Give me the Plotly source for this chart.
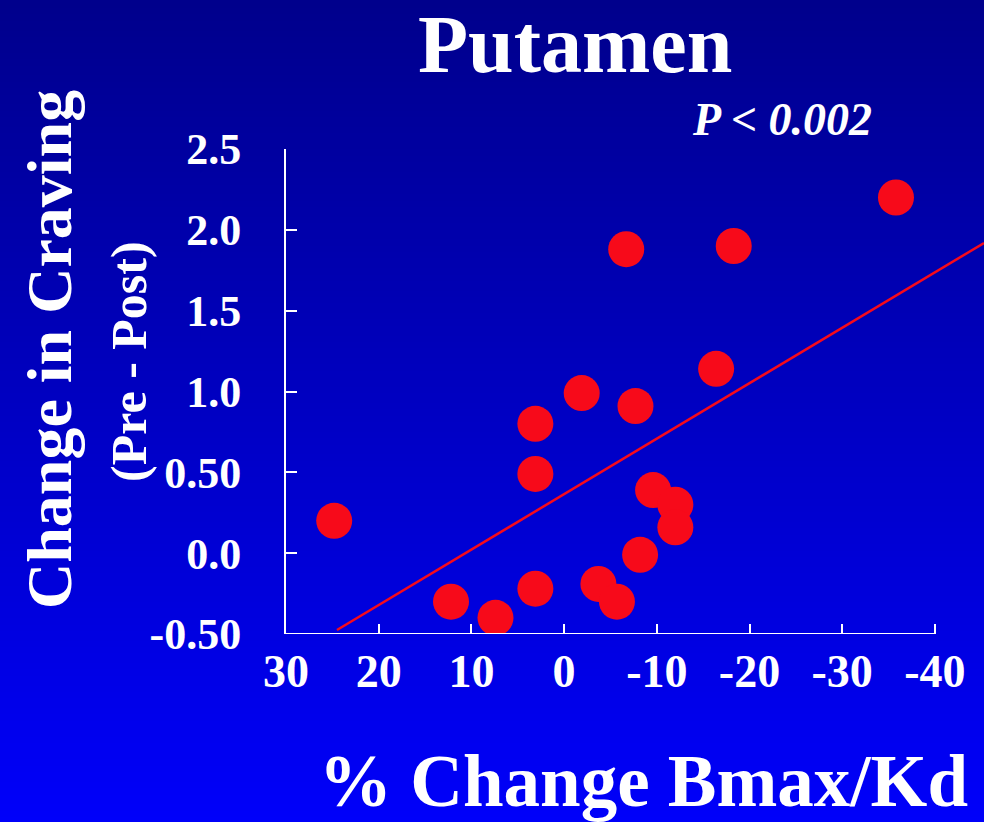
import base64
import struct
import zlib

import plotly.graph_objects as go

# ---------------- data ----------------
bmax_change = [-35.8, -6.7, -18.3, -16.4, -1.9, -7.7, 3.1, 3.1, -9.6,
               -12.0, -12.0, 24.8, -8.2, 3.1, 12.2, 7.4, -3.7, -5.7]
craving_change = [2.20, 1.88, 1.90, 1.14, 0.99, 0.91, 0.80, 0.49, 0.39,
                  0.30, 0.16, 0.20, -0.01, -0.22, -0.30, -0.40, -0.19, -0.30]

fit_slope = -0.0343
fit_intercept = 0.365
fit_x = [24.5, -45.3]
fit_y = [fit_intercept + fit_slope * v for v in fit_x]

x_tick_vals = [30, 20, 10, 0, -10, -20, -30, -40]
x_tick_text = ["30", "20", "10", "0", "-10", "-20", "-30", "-40"]
y_tick_vals = [-0.5, 0.0, 0.5, 1.0, 1.5, 2.0, 2.5]
y_tick_text = ["-0.50", "0.0", "0.50", "1.0", "1.5", "2.0", "2.5"]

title_text = "Putamen"
p_text = "<i>P < 0.002</i>"
x_title = "% Change Bmax/Kd"
y_title_1 = "Change in Craving"
y_title_2 = "(Pre - Post)"

# ---------------- layout geometry ----------------
W, H = 984, 822
L, R, T, B = 286, 0, 149, 188
PW, PH = W - L - R, H - T - B

def paper(xp, yp):
    return (xp - L) / PW, (H - B - yp) / PH

FONT = "Liberation Serif, Times New Roman, serif"
WHITE = "#ffffff"
RED = "#f70a1a"

# ---------------- gradient background as small PNG ----------------
def gradient_png(top, bottom, n=256):
    rows = b""
    for i in range(n):
        t = i / (n - 1)
        c = [int(round(top[k] + (bottom[k] - top[k]) * t)) for k in range(3)]
        rows += b"\x00" + bytes(c)
    def chunk(tag, data):
        return (struct.pack(">I", len(data)) + tag + data +
                struct.pack(">I", zlib.crc32(tag + data) & 0xffffffff))
    png = b"\x89PNG\r\n\x1a\n"
    png += chunk(b"IHDR", struct.pack(">IIBBBBB", 1, n, 8, 2, 0, 0, 0))
    png += chunk(b"IDAT", zlib.compress(rows))
    png += chunk(b"IEND", b"")
    return "data:image/png;base64," + base64.b64encode(png).decode()

bg_src = gradient_png((0, 0, 140), (0, 0, 250))

fig = go.Figure()

fig.add_trace(go.Scatter(
    x=fit_x, y=fit_y, mode="lines",
    line=dict(color=RED, width=2.5),
    hoverinfo="skip", showlegend=False,
))
fig.add_trace(go.Scatter(
    x=bmax_change, y=craving_change, mode="markers",
    marker=dict(size=36, color=RED, line=dict(width=0)),
    showlegend=False,
))

# x axis line only spans the tick range (30 .. -40)
fig.add_shape(type="line", xref="x", yref="y",
              x0=x_tick_vals[0], x1=x_tick_vals[-1],
              y0=y_tick_vals[0], y1=y_tick_vals[0],
              line=dict(color=WHITE, width=2), layer="above")

x0p, y0p = paper(0, 0)
x1p, y1p = paper(W, H)
fig.add_layout_image(dict(
    source=bg_src, xref="paper", yref="paper",
    x=x0p, y=y0p, sizex=x1p - x0p, sizey=y0p - y1p,
    xanchor="left", yanchor="top", sizing="stretch", layer="below",
))

def ann(text, xp, yp, size, angle=0):
    ax, ay = paper(xp, yp)
    fig.add_annotation(
        text=text, x=ax, y=ay, xref="paper", yref="paper",
        xanchor="center", yanchor="middle", showarrow=False,
        textangle=angle,
        font=dict(family=FONT, size=size, color=WHITE, weight="bold"),
    )

ann(title_text, 575, 44, 82)
ann(p_text, 782, 119, 46)
ann(x_title, 643, 781, 73)
ann(y_title_1, 49, 350, 64, -90)
ann(y_title_2, 129, 362, 50, -90)

fig.update_xaxes(
    range=[30, 30 - PW / 9.27], tickvals=x_tick_vals, ticktext=x_tick_text,
    showgrid=False, zeroline=False, showline=False,
    ticks="inside", ticklen=10, tickwidth=2, tickcolor=WHITE,
    ticklabelstandoff=6,
    tickfont=dict(family=FONT, size=46, color=WHITE, weight="bold"),
)
fig.update_yaxes(
    range=[-0.5, 2.5], tickvals=y_tick_vals, ticktext=y_tick_text,
    showgrid=False, zeroline=False, showline=True, linecolor=WHITE, linewidth=2,
    ticks="inside", ticklen=11, tickwidth=2, tickcolor=WHITE,
    ticklabelstandoff=34,
    tickfont=dict(family=FONT, size=44, color=WHITE, weight="bold"),
)

fig.update_layout(
    width=W, height=H,
    margin=dict(l=L, r=R, t=T, b=B, pad=0),
    paper_bgcolor="#0000c0", plot_bgcolor="rgba(0,0,0,0)",
    showlegend=False,
)

fig.write_html(
    "out.html",
    config={"displayModeBar": False},
    post_script="document.body.style.margin='0';document.body.style.overflow='hidden';",
)
